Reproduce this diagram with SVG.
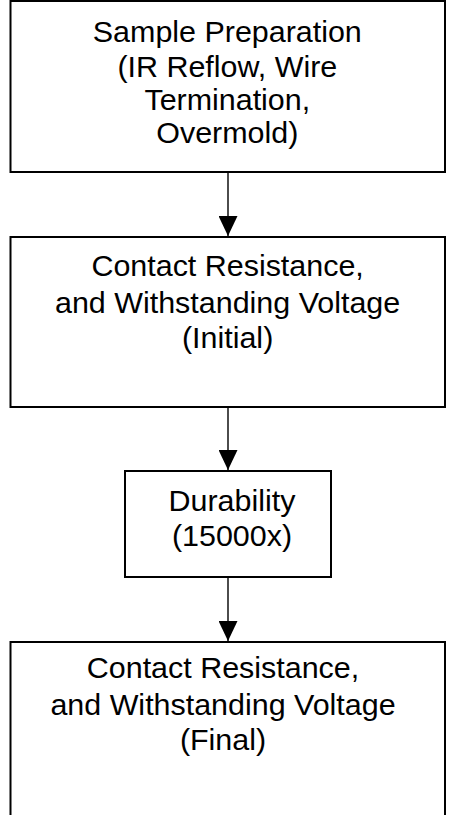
<svg xmlns="http://www.w3.org/2000/svg" width="456" height="815" viewBox="0 0 456 815">
<style>
.box{fill:#fff;stroke:#000;stroke-width:2}
.t{font-family:"Liberation Sans",Arial,sans-serif;font-size:29px;fill:#000;text-anchor:middle}
.c{stroke:#000;stroke-width:1.4;fill:none}
</style>
<defs>
<marker id="ah" viewBox="0 0 20 19" refX="20" refY="9.5" markerWidth="20" markerHeight="19" markerUnits="userSpaceOnUse" orient="auto">
<path d="M0,0 L20,9.5 L0,19 Z" fill="#000"/>
</marker>
</defs>
<rect width="456" height="815" fill="#fff"/>
<g id="connectors">
<line class="c" x1="228" y1="172" x2="228" y2="236" marker-end="url(#ah)"/>
<line class="c" x1="228" y1="407" x2="228" y2="470" marker-end="url(#ah)"/>
<line class="c" x1="228" y1="577" x2="228" y2="641" marker-end="url(#ah)"/>
</g>
<g id="n1">
<rect class="box" x="10.5" y="1" width="434.5" height="171"/>
<g transform="translate(227.3,0) scale(1.05,1)">
<text class="t" x="0" y="42.5">Sample Preparation</text>
<text class="t" x="0" y="77">(IR Reflow, Wire</text>
<text class="t" x="0" y="110">Termination,</text>
<text class="t" x="0" y="143.5">Overmold)</text>
</g>
</g>
<g id="n2">
<rect class="box" x="10.5" y="237" width="434.5" height="170"/>
<g transform="translate(227.6,0) scale(1.05,1)">
<text class="t" x="0" y="276.5">Contact Resistance,</text>
<text class="t" x="0" y="313">and Withstanding Voltage</text>
<text class="t" x="0" y="348.5">(Initial)</text>
</g>
</g>
<g id="n3">
<rect class="box" x="125" y="471" width="206" height="106"/>
<g transform="translate(232,0) scale(1.05,1)">
<text class="t" x="0" y="511.5">Durability</text>
<text class="t" x="0" y="546.5">(15000x)</text>
</g>
</g>
<g id="n4">
<rect class="box" x="10.5" y="642" width="434.5" height="190"/>
<g transform="translate(223,0) scale(1.05,1)">
<text class="t" x="0" y="678.5">Contact Resistance,</text>
<text class="t" x="0" y="715">and Withstanding Voltage</text>
<text class="t" x="0" y="750">(Final)</text>
</g>
</g>
</svg>
